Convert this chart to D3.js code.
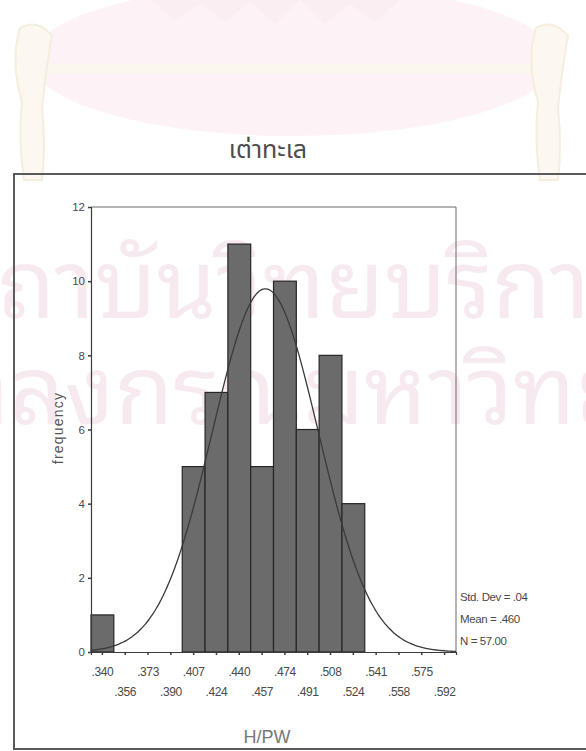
<!DOCTYPE html>
<html>
<head>
<meta charset="utf-8">
<script src="https://cdn.jsdelivr.net/npm/d3@7/dist/d3.min.js"></script>
<style>
  html, body { margin: 0; padding: 0; background: #ffffff; }
  svg { display: block; }
</style>
</head>
<body>
<div id="chart"></div>
<script>
// Histogram of H/PW for sea turtles, with fitted normal curve
const binLabels = [".340", ".356", ".373", ".390", ".407", ".424", ".440", ".457",
                   ".474", ".491", ".508", ".524", ".541", ".558", ".575", ".592"];
const frequencies = [1, 0, 0, 0, 5, 7, 11, 5, 10, 6, 8, 4, 0, 0, 0, 0];
const yTickValues = [0, 2, 4, 6, 8, 10, 12];
const firstMid = 0.340;
const lastMid = 0.592;
const statMean = 0.460;
const statSd = 0.039;
const statN = 57;
const titleText = "เต่าทะเล";
const xTitle = "H/PW";
const yTitle = "frequency";
const stampLines = ["สถาบันวิทยบริการ", "จุฬาลงกรณ์มหาวิทยาลัย"];

const W = 586, H = 751;
const plot = { left: 91, right: 456, top: 207, bottom: 652 };
const thaiFont = "'Noto Sans Thai', 'Noto Sans Thai UI', Loma, Garuda, 'DejaVu Sans', sans-serif";
const stampFont = "'Noto Sans Thai Looped', Loma, Garuda, Norasi, 'Noto Serif Thai', 'Noto Sans Thai', sans-serif";
const axisFont = "'Liberation Sans Narrow', 'Liberation Sans', Arial, sans-serif";

const svg = d3.select("#chart").append("svg")
  .attr("width", W).attr("height", H);

// ---- faint library emblem and stamp behind the page ----
const mark = svg.append("g").attr("class", "emblem");
mark.append("ellipse")
  .attr("cx", 293).attr("cy", 60).attr("rx", 262).attr("ry", 76)
  .attr("fill", "#fdf3f6");
mark.append("path")
  .attr("d", "M150,0 L175,20 L200,4 L225,22 L250,2 L275,24 L300,0 L325,24 L350,4 L375,22 L400,0 Z")
  .attr("fill", "#fbeef2");
mark.append("rect")
  .attr("x", 40).attr("y", 64).attr("width", 506).attr("height", 10)
  .attr("fill", "#fbf7ef");
[[20, 28], [536, 28]].forEach(([x, y]) => {
  mark.append("path")
    .attr("d", `M${x},${y} q18,-10 32,8 q-6,32 -10,72 q4,38 0,72 l-18,0 q-6,-40 -2,-78 q-12,-40 -2,-74 Z`)
    .attr("fill", "#fcf8f1")
    .attr("stroke", "#f5eede")
    .attr("stroke-width", 2);
});

const stamp = svg.append("g").attr("class", "stamp")
  .attr("font-family", stampFont)
  .attr("fill", "#f7e9f0");
stamp.selectAll("text")
  .data(stampLines)
  .join("text")
  .attr("x", (d, i) => (i === 0 ? -58 : -150))
  .attr("y", (d, i) => (i === 0 ? 318 : 424))
  .attr("font-size", 96)
  .text(d => d);

// ---- page title and outer frame ----
svg.append("text")
  .attr("x", 268).attr("y", 158)
  .attr("text-anchor", "middle")
  .attr("font-family", thaiFont)
  .attr("font-size", 25)
  .attr("fill", "#4d4d4d")
  .text(titleText);

svg.append("rect")
  .attr("x", 14).attr("y", 174)
  .attr("width", 640).attr("height", 575)
  .attr("fill", "none")
  .attr("stroke", "#5a5a5a")
  .attr("stroke-width", 2);

// ---- scales ----
const x = d3.scaleBand()
  .domain(binLabels)
  .range([plot.left, plot.right])
  .paddingInner(0).paddingOuter(0);
const binWidth = (lastMid - firstMid) / (binLabels.length - 1);
const xv = d3.scaleLinear()
  .domain([firstMid - binWidth / 2, lastMid + binWidth / 2])
  .range([plot.left, plot.right]);
const y = d3.scaleLinear()
  .domain([0, 12])
  .range([plot.bottom, plot.top]);

// ---- plot box (top and right edges) ----
svg.append("path")
  .attr("d", `M${plot.left},${plot.top} H${plot.right} V${plot.bottom}`)
  .attr("fill", "none")
  .attr("stroke", "#6a6a6a")
  .attr("stroke-width", 1);

// ---- bars ----
svg.append("g").selectAll("rect")
  .data(binLabels.map((l, i) => ({ label: l, count: frequencies[i] })).filter(d => d.count > 0))
  .join("rect")
  .attr("x", d => x(d.label))
  .attr("y", d => y(d.count))
  .attr("width", x.bandwidth())
  .attr("height", d => y(0) - y(d.count))
  .attr("fill", "#6b6b6b")
  .attr("stroke", "#262626")
  .attr("stroke-width", 1.2);

// ---- normal curve ----
const pdf = v => Math.exp(-0.5 * ((v - statMean) / statSd) ** 2) / (statSd * Math.sqrt(2 * Math.PI));
const [d0, d1] = xv.domain();
const samples = d3.range(0, 241).map(k => d0 + (d1 - d0) * k / 240);
svg.append("path")
  .datum(samples)
  .attr("d", d3.line()
    .x(v => xv(v))
    .y(v => y(statN * binWidth * pdf(v)))
    .curve(d3.curveBasis))
  .attr("fill", "none")
  .attr("stroke", "#3a3a3a")
  .attr("stroke-width", 1.3);

// ---- y axis ----
const yAxis = svg.append("g")
  .attr("transform", `translate(${plot.left},0)`)
  .call(d3.axisLeft(y).tickValues(yTickValues).tickSize(3).tickPadding(3).tickFormat(d3.format("d")));
yAxis.select(".domain").attr("stroke", "#3c3c3c").attr("stroke-width", 1.2);
yAxis.selectAll(".tick line").attr("stroke", "#3c3c3c").attr("stroke-width", 1.5);
yAxis.selectAll(".tick text")
  .attr("font-family", axisFont).attr("font-size", 11.5).attr("fill", "#4a4a4a");

// ---- x axis (labels staggered over two rows) ----
const xAxis = svg.append("g")
  .attr("transform", `translate(0,${plot.bottom})`)
  .call(d3.axisBottom(x).tickSize(3).tickPadding(0));
xAxis.select(".domain").attr("stroke", "#3c3c3c").attr("stroke-width", 1.2);
xAxis.selectAll(".tick line").attr("stroke", "#3c3c3c").attr("stroke-width", 1.5);
xAxis.selectAll(".tick text")
  .attr("font-family", axisFont).attr("font-size", 12).attr("fill", "#4a4a4a")
  .attr("letter-spacing", "-0.4")
  .attr("dy", null)
  .attr("y", (d, i) => (i % 2 === 0 ? 24 : 44));

// ---- axis titles ----
svg.append("text")
  .attr("x", 267).attr("y", 743)
  .attr("text-anchor", "middle")
  .attr("font-family", "'Liberation Sans', Arial, sans-serif")
  .attr("font-size", 18)
  .attr("fill", "#777777")
  .text(xTitle);

svg.append("text")
  .attr("transform", `translate(63,428) rotate(-90)`)
  .attr("text-anchor", "middle")
  .attr("font-family", axisFont)
  .attr("font-size", 14)
  .attr("letter-spacing", "1.2")
  .attr("fill", "#555")
  .text(yTitle);

// ---- summary statistics ----
const statLines = [
  `Std. Dev = ${d3.format(".2f")(statSd).replace(/^0/, "")}`,
  `Mean = ${d3.format(".3f")(statMean).replace(/^0/, "")}`,
  `N = ${d3.format(".2f")(statN)}`
];
svg.append("g")
  .attr("font-family", axisFont)
  .attr("font-size", 11.5)
  .attr("fill", "#4a4a4a")
  .attr("letter-spacing", "-0.4")
  .selectAll("text")
  .data(statLines)
  .join("text")
  .attr("x", plot.right + 4)
  .attr("y", (d, i) => 601 + i * 22)
  .text(d => d);
</script>
</body>
</html>
